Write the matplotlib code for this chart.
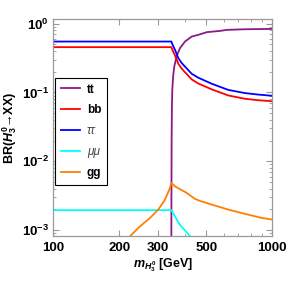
import numpy as np
import matplotlib
matplotlib.use("Agg")
import matplotlib.pyplot as plt
from matplotlib.ticker import FixedLocator, FixedFormatter, NullFormatter

plt.rcParams['font.family'] = ['Liberation Sans', 'DejaVu Sans']
plt.rcParams['font.weight'] = 'bold'
plt.rcParams['mathtext.fontset'] = 'custom'
plt.rcParams['mathtext.rm'] = 'Liberation Sans:bold'
plt.rcParams['mathtext.it'] = 'Liberation Sans:italic:bold'
plt.rcParams['mathtext.bf'] = 'Liberation Sans:bold'

# data (mass in GeV, branching ratio)
m_flat = [100, 346]
br_bb_flat = [0.456, 0.456]
br_tau_flat = [0.550, 0.550]
br_mu_flat = [1.95e-3, 1.95e-3]

m_heavy = [346, 352, 359.5, 365, 372.2, 385, 399.3, 428.5, 459.4, 529, 629.6,
           750.6, 870, 1000]
br_tau = [0.550, 0.48, 0.417, 0.37, 0.316, 0.27, 0.238, 0.187, 0.164, 0.134,
          0.109, 0.098, 0.093, 0.0895]
br_bb = [0.456, 0.398, 0.346, 0.307, 0.262, 0.224, 0.197, 0.155, 0.135, 0.111,
         0.0905, 0.081, 0.077, 0.0745]

m_tt = [345.9, 346.3, 347, 348, 349.5, 353, 357, 366, 378.9, 399.3, 428.5,
        459.4, 502.5, 577.5, 621, 750, 1000]
br_tt = [5e-4, 3e-3, 0.02, 0.06, 0.11, 0.18, 0.24, 0.34, 0.441, 0.55, 0.65,
         0.688, 0.753, 0.786, 0.813, 0.83, 0.84]

m_mu = [346, 359.5, 372, 385, 400, 421, 440]
br_mu = [1.95e-3, 1.58e-3, 1.3e-3, 1.12e-3, 9.8e-4, 8.2e-4, 7.3e-4]

m_gg = [215, 224, 248.9, 276.5, 301.6, 323.6, 341, 346, 359.5, 406.5, 443.6,
        467.6, 528.8, 629.6, 750.6, 894.4, 1000]
br_gg = [7.2e-4, 8.13e-4, 1.135e-3, 1.503e-3, 1.985e-3, 2.77e-3, 4.1e-3, 4.84e-3,
         4.32e-3, 3.47e-3, 2.84e-3, 2.65e-3, 2.35e-3, 1.985e-3, 1.72e-3, 1.503e-3,
         1.42e-3]

x_major = [100, 200, 300, 500, 1000]
x_labels = ['100', '200', '300', '500', '1000']
x_minor = [400, 600, 700, 800, 900]
y_major = [1e-3, 1e-2, 1e-1, 1]
y_labels = [r'$10^{-3}$', r'$10^{-2}$', r'$10^{-1}$', r'$10^{0}$']

c_tt = '#8B1A89'
c_bb = '#FF0000'
c_tau = '#0000FF'
c_mu = '#00FFFF'
c_gg = '#FF8000'

fig = plt.figure(figsize=(2.89, 2.81), dpi=100)
ax = fig.add_axes([0.1844, 0.1601, 0.7578, 0.7723])

lw = 1.3
ax.plot(m_tt, br_tt, color=c_tt, lw=lw, label='tt')
ax.plot(m_flat + m_heavy[1:], br_bb_flat + br_bb[1:], color=c_bb, lw=lw, label='bb')
ax.plot(m_flat + m_heavy[1:], br_tau_flat + br_tau[1:], color=c_tau, lw=lw, label='ττ')
ax.plot(m_flat + m_mu[1:], br_mu_flat + br_mu[1:], color=c_mu, lw=lw, label='μμ')
ax.plot(m_gg, br_gg, color=c_gg, lw=lw, label='gg')

ax.set_xscale('log')
ax.set_yscale('log')
ax.set_xlim(100, 1000)
ax.set_ylim(8.2e-4, 1.17)

ax.xaxis.set_major_locator(FixedLocator(x_major))
ax.xaxis.set_major_formatter(FixedFormatter(x_labels))
ax.xaxis.set_minor_locator(FixedLocator(x_minor))
ax.xaxis.set_minor_formatter(NullFormatter())
ax.yaxis.set_major_locator(FixedLocator(y_major))
ax.yaxis.set_major_formatter(FixedFormatter(y_labels))
ax.yaxis.set_minor_locator(FixedLocator(
    [k * 10.0 ** e for e in range(-4, 1) for k in range(2, 10)]))
ax.yaxis.set_minor_formatter(NullFormatter())

for s in ax.spines.values():
    s.set_color('#999999')
    s.set_linewidth(0.9)
ax.tick_params(which='both', direction='in', top=True, right=True,
               color='#999999', labelsize=9.5)
ax.tick_params(which='major', length=4, width=0.8)
ax.tick_params(which='minor', length=2.5, width=0.6)
ax.tick_params(axis='x', pad=4)
ax.tick_params(axis='y', pad=3)

ax.set_xlabel(r'$m_{H_3^0}$ [GeV]', fontsize=9, fontweight='bold', labelpad=2)
ax.set_ylabel(r'BR($H_3^0$→XX)', fontsize=9, fontweight='bold', labelpad=2)

leg = ax.legend(loc='upper left', bbox_to_anchor=(0.008, 0.7295), borderaxespad=0,
                fancybox=False, framealpha=1, edgecolor='black',
                prop={'size': 8.5, 'weight': 'bold'}, handlelength=1.6,
                handletextpad=0.6, labelspacing=0.75, borderpad=0.5)
leg.get_frame().set_linewidth(0.8)
for t in leg.get_texts():
    if t.get_text() in ('ττ', 'μμ'):
        t.set_fontweight('normal')
        t.set_fontstyle('italic')
        t.set_color('#444444')

fig.savefig('out.png', dpi=100)
